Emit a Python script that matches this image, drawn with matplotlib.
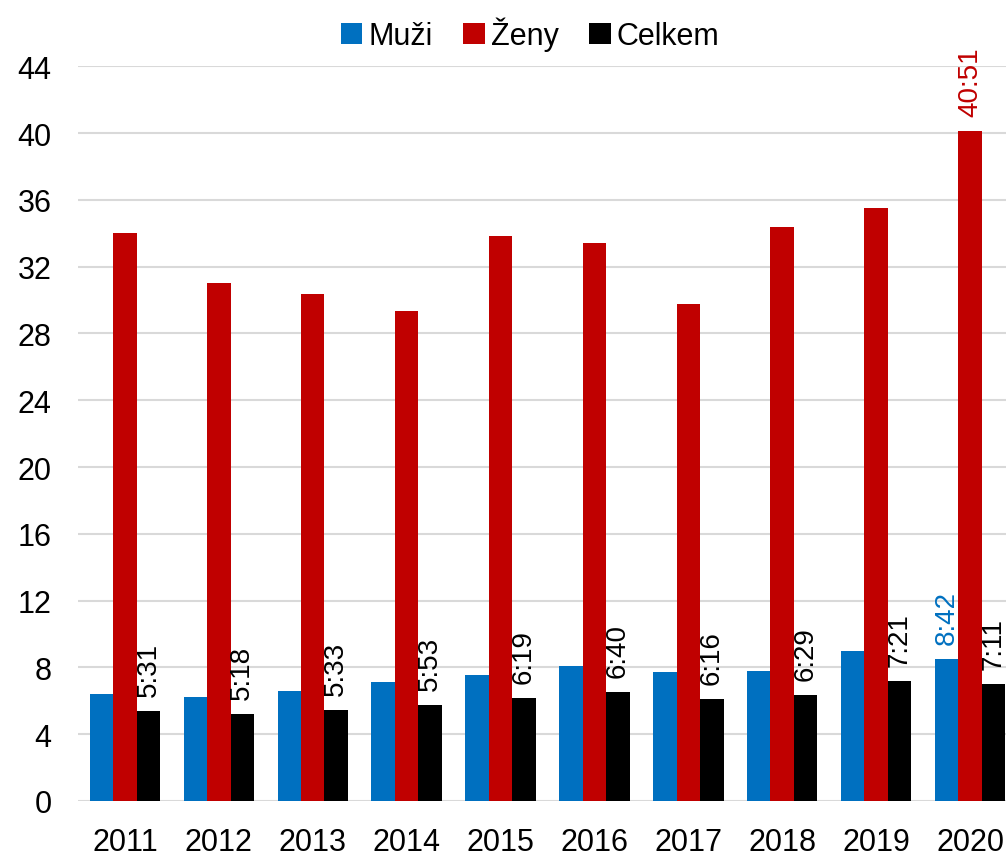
import numpy as np
import matplotlib
matplotlib.use('Agg')
import matplotlib.pyplot as plt

plt.rcParams['font.family'] = ['Liberation Sans', 'DejaVu Sans']

# data
roky = ['2011', '2012', '2013', '2014', '2015', '2016', '2017', '2018', '2019', '2020']
muzi = [6.41, 6.24, 6.6, 7.14, 7.56, 8.1, 7.72, 7.78, 9.01, 8.51]
zeny = [34.0, 31.02, 30.36, 29.36, 33.84, 33.42, 29.76, 34.38, 35.54, 40.13]
celkem = [5.38, 5.2, 5.45, 5.74, 6.16, 6.52, 6.12, 6.34, 7.18, 7.01]
muzi_popisky = ['', '', '', '', '', '', '', '', '', '8:42']
zeny_popisky = ['', '', '', '', '', '', '', '', '', '40:51']
celkem_popisky = ['5:31', '5:18', '5:33', '5:53', '6:19', '6:40', '6:16', '6:29', '7:21', '7:11']

modra = '#0070C0'
cervena = '#C00000'
cerna = '#000000'

fig = plt.figure(figsize=(10.06, 8.54), dpi=100)
ax = fig.add_axes([0.0775, 0.0609, 0.9334, 0.8603])

x = np.arange(len(roky))
w = 0.25
serie = [(muzi, muzi_popisky, modra, 'Muži', -w),
         (zeny, zeny_popisky, cervena, 'Ženy', 0),
         (celkem, celkem_popisky, cerna, 'Celkem', w)]

for hodnoty, popisky, barva, nazev, posun in serie:
    ax.bar(x + posun, hodnoty, width=w, color=barva, label=nazev, zorder=3)
    for xi, v, t in zip(x + posun, hodnoty, popisky):
        if t:
            ax.text(xi, v + 0.9, t, rotation=90, ha='center', va='bottom',
                    fontsize=20, color=barva, clip_on=False)

ax.set_xlim(-0.5, len(roky) - 0.5)
ax.set_ylim(0, 44)
ax.set_yticks(np.arange(0, 45, 4))
ax.set_xticks(x)
ax.set_xticklabels(roky)
ax.tick_params(axis='both', length=0, labelsize=22)
ax.tick_params(axis='y', pad=19)
ax.tick_params(axis='x', pad=19)
ax.grid(axis='y', color='#d9d9d9', linewidth=1.5, zorder=0)
for s in ['top', 'right', 'left', 'bottom']:
    ax.spines[s].set_visible(False)

fig.legend(loc='center', bbox_to_anchor=(0.527, 0.959), ncol=3, frameon=False,
           fontsize=22, handlelength=0.7, handleheight=0.7, handletextpad=0.2,
           columnspacing=1.0)

fig.savefig('out.png', dpi=100)
